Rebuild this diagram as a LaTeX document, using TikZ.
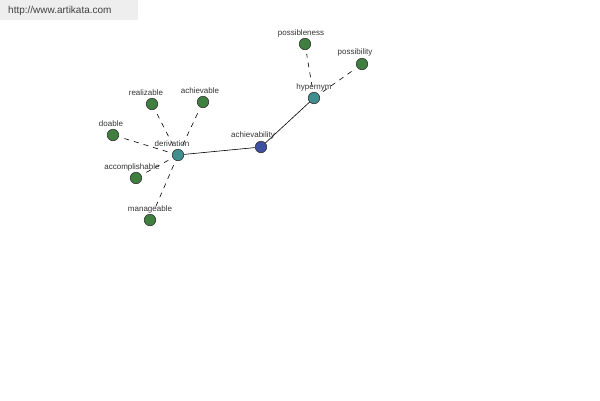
\documentclass[tikz,border=0pt]{standalone}
\usepackage{fontspec}
\setmainfont{Liberation Sans}
\definecolor{leafc}{HTML}{3F7F3F}
\definecolor{midc}{HTML}{3F8F8F}
\definecolor{rootc}{HTML}{3F4F9F}
\definecolor{txtc}{HTML}{333333}
\definecolor{hdrc}{HTML}{EEEEEE}
\begin{document}
\begin{tikzpicture}[x=1pt,y=-1pt,
  dot/.style={circle,draw=black!80,line width=0.6pt,minimum size=11.5pt,inner sep=0pt},
  leaf/.style={dot,fill=leafc},
  mid/.style={dot,fill=midc},
  root/.style={dot,fill=rootc},
  lbl/.style={font=\fontsize{8}{9}\selectfont,text=txtc,inner sep=0pt},
  rel/.style={line width=0.6pt,dash pattern=on 5pt off 5pt,shorten <=5pt,shorten >=4pt},
  link/.style={line width=0.6pt}]
\useasboundingbox (0,0) rectangle (600,400);
\fill[hdrc] (0,0) rectangle (138,20);
\node[font=\fontsize{10}{11}\selectfont,text=black!75,anchor=west,inner sep=0pt] (url) at (8,11) {http://www.artikata.com};
% nodes
\node[root] (ach) at (261,147) {};
\node[mid] (der) at (178,155) {};
\node[mid] (hyp) at (314,98) {};
\node[leaf] (pness) at (305,44) {};
\node[leaf] (pity) at (362,64) {};
\node[leaf] (real) at (152,104) {};
\node[leaf] (achv) at (203,102) {};
\node[leaf] (doab) at (113,135) {};
\node[leaf] (acc) at (136,178) {};
\node[leaf] (man) at (150,220) {};
% edges
\draw[link] (der) -- (ach);
\draw[link] (ach) -- (hyp);
\draw[rel] (der) -- (real);
\draw[rel] (der) -- (achv);
\draw[rel] (der) -- (doab);
\draw[rel] (der) -- (acc);
\draw[rel] (der) -- (man);
\draw[rel] (hyp) -- (pness);
\draw[rel] (hyp) -- (pity);
% labels
\node[lbl] (lach) at (253,135) {achievability};
\node[lbl] (lder) at (172,144) {derivation};
\node[lbl] (lhyp) at (314,87) {hypernym};
\node[lbl] (lpness) at (301,33) {possibleness};
\node[lbl] (lpity) at (355,52) {possibility};
\node[lbl] (lreal) at (146,93) {realizable};
\node[lbl] (lachv) at (200,91) {achievable};
\node[lbl] (ldoab) at (111,124) {doable};
\node[lbl] (lacc) at (132,167) {accomplishable};
\node[lbl] (lman) at (150,209) {manageable};
\end{tikzpicture}
\end{document}
